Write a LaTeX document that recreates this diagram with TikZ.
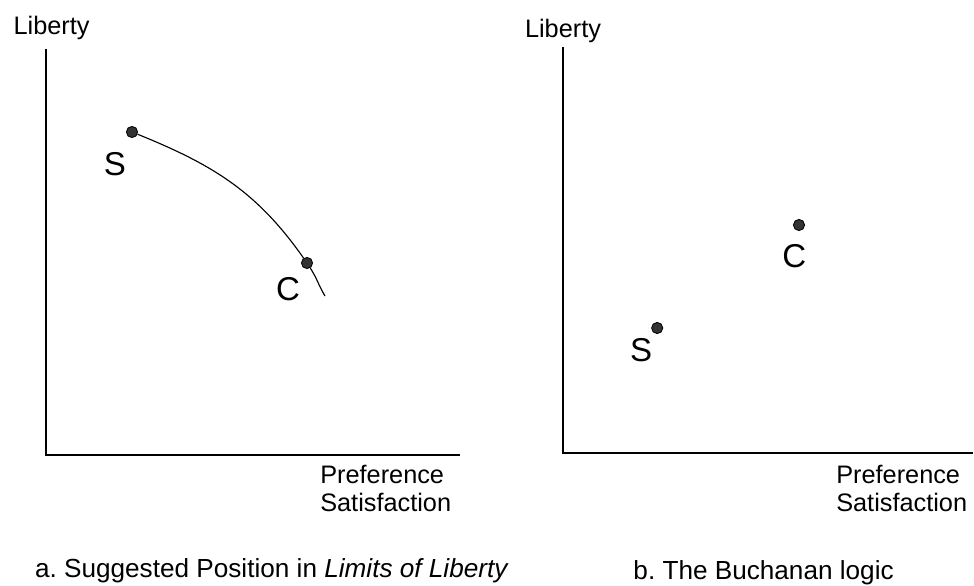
\documentclass[tikz,border=0pt]{standalone}
\usepackage{fontspec}
\setmainfont{Liberation Sans}
\usepackage{tikz}
\definecolor{dotgray}{HTML}{333333}
\frenchspacing

\begin{document}
\begin{tikzpicture}[x=1cm,y=1cm,axis/.style={draw=black,line width=1pt},frontier/.style={draw=black,line width=0.8pt},pt/.style={circle,draw=black,line width=0.6pt,fill=dotgray,inner sep=0pt,minimum size=0.28cm},lbl/.style={font=\fontsize{18}{20}\selectfont,inner sep=0pt},tag/.style={font=\fontsize{23.5}{27}\selectfont,inner sep=0pt},caption/.style={font=\fontsize{18.6}{21}\selectfont,inner sep=0pt}]
\useasboundingbox (0,0) rectangle (24.35,14.625);
\coordinate (topA) at (1.15,13.4);
\coordinate (originA) at (1.15,3.25);
\coordinate (rightA) at (11.5,3.25);
\coordinate (topB) at (14.075,13.45);
\coordinate (originB) at (14.075,3.3);
\coordinate (rightB) at (24.33,3.3);
\draw[axis] (topA) -- (originA) -- (rightA);
\draw[axis] (topB) -- (originB) -- (rightB);
\node[lbl,anchor=base] (libertyA) at (1.29,13.77) {Liberty};
\node[lbl,anchor=base] (libertyB) at (14.075,13.68) {Liberty};
\node[lbl,anchor=north west,align=left] (prefA) at (8.0,3.0) {Preference\\Satisfaction};
\node[lbl,anchor=north west,align=left] (prefB) at (20.9,3.0) {Preference\\Satisfaction};
\node[pt] (sA) at (3.3,11.325) {};
\node[pt] (cA) at (7.675,8.05) {};
\coordinate (endA) at (8.125,7.225);
\draw[frontier] (sA) to[out=-22,in=125] (cA) to[out=-57,in=121] (endA);
\node[tag] (sAtag) at (2.87,10.51) {S};
\node[tag] (cAtag) at (7.2,7.4) {C};
\node[pt] (cB) at (19.975,9.0) {};
\node[pt] (sB) at (16.43,6.425) {};
\node[tag] (cBtag) at (19.86,8.21) {C};
\node[tag] (sBtag) at (16.03,5.875) {S};
\node[caption,anchor=base west] (capA) at (0.87,0.2) {a. Suggested Position in \textit{Limits of Liberty}};
\node[caption,anchor=base west] (capB) at (15.83,0.15) {b. The Buchanan logic};
\end{tikzpicture}
\end{document}
